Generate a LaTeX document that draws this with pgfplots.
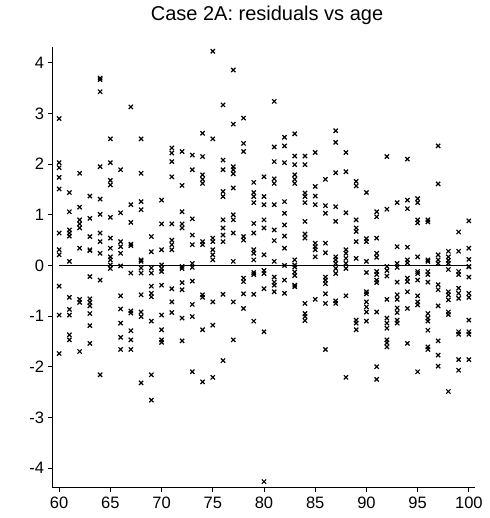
\documentclass[border=0pt]{standalone}
\usepackage{fontspec}
\setmainfont{Liberation Sans}
\usepackage{pgfplots}
\pgfplotsset{compat=1.18}
\begin{document}
\begin{tikzpicture}
\begin{axis}[
  scale only axis,
  width=422pt, height=441pt,
  xmin=59.4, xmax=100.6,
  ymin=-4.39, ymax=4.32,
  axis x line*=bottom, axis y line*=left,
  axis line style={line width=1pt},
  xtick={60,65,...,100},
  ytick={-4,-3,...,4},
  tick align=outside,
  major tick length=4.5pt,
  tick style={line width=0.9pt, black},
  /pgf/number format/assume math mode=true,
  ticklabel style={font=\fontsize{16.5}{18}\selectfont},
  xticklabel style={yshift=-1pt},
  yticklabel style={xshift=-1pt},
  title={Case 2A: residuals vs age},
  title style={font=\fontsize{20}{22}\selectfont, at={(0.5,1)}, anchor=base, yshift=20pt, xshift=3pt},
  clip=false,
]
\addplot[black, line width=1pt] coordinates {(60,0) (100,0)};
\addplot[only marks, mark=x, mark size=3pt, mark options={line width=1.2pt, black}] table {
x y
60 2.90
60 2.03
60 1.93
60 1.74
60 1.51
60 0.64
60 0.31
60 0.21
60 -0.41
60 -0.98
60 -1.74
61 1.44
61 1.06
61 0.70
61 0.64
61 0.58
61 0.08
61 -0.63
61 -0.87
61 -0.98
61 -1.37
61 -1.47
62 1.82
62 1.15
62 0.90
62 0.82
62 0.74
62 0.34
62 -0.67
62 -0.73
62 -1.70
63 1.37
63 0.93
63 0.57
63 0.31
63 0.29
63 -0.22
63 -0.66
63 -0.73
63 -0.80
63 -0.95
63 -1.19
63 -1.54
64 3.70
64 3.67
64 3.43
64 1.95
64 1.31
64 1.01
64 0.64
64 0.47
64 0.24
64 -0.29
64 -2.16
65 2.50
65 2.03
65 1.68
65 1.59
65 0.95
65 0.54
65 0.34
65 0.17
65 0.11
65 0.01
65 -0.06
66 1.89
66 1.04
66 0.47
66 0.37
66 0.24
66 -0.01
66 -0.60
66 -0.86
66 -1.14
66 -1.42
66 -1.66
67 3.13
67 1.20
67 0.85
67 0.42
67 0.39
67 -0.15
67 -0.90
67 -0.94
67 -1.29
67 -1.47
67 -1.66
68 2.50
68 1.82
68 1.26
68 1.10
68 0.11
68 0.08
68 -0.05
68 -0.15
68 -0.58
68 -0.92
68 -1.01
68 -2.32
69 0.57
69 0.27
69 -0.05
69 -0.15
69 -0.41
69 -0.55
69 -0.62
69 -1.10
69 -2.16
69 -2.66
70 1.29
70 0.82
70 0.31
70 0.01
70 -0.06
70 -0.12
70 -0.39
70 -0.98
70 -1.27
70 -1.47
70 -1.52
71 2.32
71 2.22
71 2.05
71 1.75
71 0.82
71 0.50
71 0.41
71 0.31
71 -0.46
71 -0.72
71 -0.93
72 2.25
72 1.58
72 1.06
72 0.82
72 0.74
72 -0.02
72 -0.06
72 -0.34
72 -0.48
72 -1.04
72 -1.49
73 2.18
73 1.89
73 0.92
73 0.60
73 0.41
73 0.04
73 -0.04
73 -0.31
73 -0.77
73 -1.01
73 -2.10
74 2.61
74 2.15
74 1.79
74 1.70
74 1.62
74 0.47
74 0.41
74 -0.58
74 -0.63
74 -1.27
74 -2.30
75 4.23
75 2.50
75 0.54
75 0.47
75 0.31
75 0.21
75 0.11
75 -0.72
75 -1.18
75 -2.21
76 3.17
76 2.08
76 1.89
76 1.46
76 1.36
76 0.90
76 0.74
76 0.60
76 0.47
76 -0.57
76 -1.88
77 3.86
77 2.79
77 1.95
77 1.89
77 1.81
77 1.53
77 1.00
77 0.90
77 0.64
77 0.08
77 -0.72
77 -1.47
78 2.91
78 2.41
78 2.25
78 0.57
78 0.50
78 -0.25
78 -0.32
78 -0.56
78 -0.85
79 1.64
79 1.44
79 1.36
79 1.24
79 0.83
79 0.64
79 0.31
79 0.24
79 0.11
79 -0.14
79 -0.18
79 -0.57
79 -1.10
80 1.75
80 1.36
80 1.20
80 0.90
80 0.74
80 0.21
80 -0.10
80 -0.16
80 -0.46
80 -1.31
80 -4.27
81 3.24
81 2.34
81 2.05
81 1.71
81 1.62
81 1.20
81 0.70
81 0.49
81 0.08
81 -0.23
81 -0.33
81 -0.39
81 -0.52
82 2.53
82 2.36
82 2.03
82 1.26
82 1.03
82 0.80
82 0.58
82 0.34
82 0.00
82 -0.29
82 -0.55
83 2.60
83 2.16
83 1.99
83 1.79
83 1.70
83 1.62
83 0.11
83 0.01
83 -0.03
83 -0.13
83 -0.20
83 -0.39
83 -0.42
84 2.16
84 1.99
84 1.43
84 1.36
84 1.24
84 0.87
84 0.62
84 0.54
84 -0.75
84 -0.95
84 -1.01
84 -1.09
85 2.23
85 1.56
85 1.37
85 1.20
85 0.44
85 0.37
85 0.31
85 0.17
85 -0.67
86 1.70
86 1.18
86 1.03
86 0.44
86 0.25
86 -0.23
86 -0.29
86 -0.36
86 -0.56
86 -0.75
86 -1.66
87 2.66
87 2.43
87 1.83
87 1.16
87 0.87
87 0.17
87 0.11
87 0.04
87 -0.06
87 -0.16
87 -0.70
87 -0.75
88 2.23
88 1.85
88 1.04
88 0.31
88 0.24
88 0.14
88 0.04
88 -0.06
88 -0.60
88 -2.21
89 1.66
89 1.57
89 0.90
89 0.74
89 0.67
89 0.47
89 0.14
89 -1.08
89 -1.14
89 -1.27
90 1.44
90 0.53
90 0.47
90 0.08
90 -0.14
90 -0.52
90 -0.56
90 -0.72
90 -0.82
90 -0.92
90 -1.10
91 1.06
91 0.96
91 0.54
91 0.24
91 0.16
91 -0.12
91 -0.18
91 -0.29
91 -0.34
91 -0.92
91 -2.00
91 -2.25
92 2.15
92 1.11
92 -0.02
92 -0.10
92 -0.21
92 -0.67
92 -1.04
92 -1.14
92 -1.24
92 -1.47
92 -1.53
92 -1.61
93 1.24
93 0.37
93 0.04
93 -0.04
93 -0.33
93 -0.58
93 -0.67
93 -0.84
93 -0.93
93 -1.08
93 -1.14
94 2.10
94 1.29
94 1.12
94 0.36
94 0.11
94 0.05
94 -0.25
94 -0.32
94 -0.52
94 -0.85
94 -1.54
95 1.32
95 1.24
95 0.90
95 0.84
95 0.17
95 -0.12
95 -0.16
95 -0.29
95 -0.60
95 -0.72
95 -0.78
95 -2.10
96 0.90
96 0.86
96 0.11
96 0.08
96 -0.12
96 -0.18
96 -0.33
96 -0.95
96 -1.04
96 -1.10
96 -1.28
96 -1.61
96 -1.66
97 2.36
97 1.61
97 0.21
97 0.11
97 0.04
97 -0.38
97 -0.48
97 -0.80
97 -1.49
97 -1.77
97 -1.99
98 0.28
98 0.17
98 0.10
98 0.04
98 -0.08
98 -0.52
98 -0.58
98 -0.68
98 -0.92
98 -0.97
98 -2.49
99 0.66
99 0.28
99 -0.12
99 -0.18
99 -0.45
99 -0.55
99 -0.65
99 -1.31
99 -1.36
99 -1.86
99 -2.07
100 0.88
100 0.34
100 0.12
100 -0.02
100 -0.03
100 -0.23
100 -0.55
100 -0.63
100 -1.08
100 -1.31
100 -1.36
100 -1.86
};
\end{axis}
\pgfresetboundingbox
\path (current axis.south west) ++(-53pt,-30.3pt) coordinate (BL);
\path (current axis.north east) ++(15pt,46.7pt) coordinate (TR);
\path (BL) rectangle (TR);
\end{tikzpicture}
\end{document}
